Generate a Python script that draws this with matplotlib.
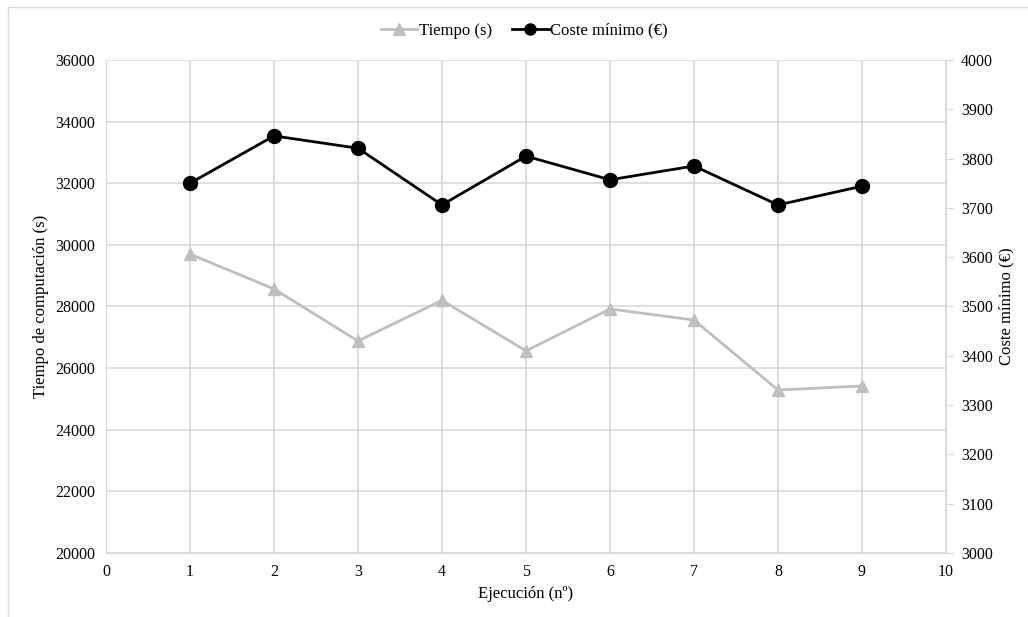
import matplotlib.pyplot as plt
from matplotlib.lines import Line2D

plt.rcParams['font.family'] = ['Liberation Serif', 'DejaVu Serif']

ejecucion = [1, 2, 3, 4, 5, 6, 7, 8, 9]
tiempo = [29700, 28570, 26880, 28200, 26560, 27920, 27560, 25290, 25420]
coste = [3750, 3846, 3821, 3706, 3805, 3757, 3785, 3706, 3744]

gris = '#bfbfbf'
rejilla = '#d9d9d9'

fig = plt.figure(figsize=(10.28, 6.17), dpi=100)
# borde del recuadro del grafico (solo arriba e izquierda quedan dentro de la imagen)
fig.add_artist(Line2D([0.0078, 1.0], [0.988, 0.988], transform=fig.transFigure, color=rejilla, linewidth=1))
fig.add_artist(Line2D([0.0078, 0.0078], [0.0, 0.988], transform=fig.transFigure, color=rejilla, linewidth=1))

ax = fig.add_axes([0.1031, 0.1037, 0.8171, 0.7991])
ax2 = ax.twinx()

ax.plot(ejecucion, tiempo, color=gris, marker='^', markersize=9, linewidth=2, zorder=3)
ax2.plot(ejecucion, coste, color='black', marker='o', markersize=10, linewidth=2, zorder=3)

ax.set_xlim(0, 10)
ax.set_ylim(20000, 36000)
ax2.set_ylim(3000, 4000)
ax.set_xticks(range(0, 11))
ax.set_yticks(range(20000, 36001, 2000))
ax2.set_yticks(range(3000, 4001, 100))

ax.grid(True, color=rejilla, linewidth=1.2)
ax.set_axisbelow(True)
for a in (ax, ax2):
    for s in a.spines.values():
        s.set_visible(False)
ax.spines['left'].set_visible(True)
ax.spines['left'].set_color(rejilla)
ax.spines['bottom'].set_visible(True)
ax.spines['bottom'].set_color(rejilla)
ax2.spines['right'].set_visible(True)
ax2.spines['right'].set_color(rejilla)

ax.tick_params(axis='both', length=0, labelsize=11.5, pad=8)
ax2.tick_params(axis='y', length=5, color=rejilla, labelsize=11.5, pad=6)

ax.set_xlabel('Ejecución (nº)', fontsize=12)
ax.set_ylabel('Tiempo de computación (s)', fontsize=12)
ax2.set_ylabel('Coste mínimo (€)', fontsize=12)

handles = [Line2D([], [], color=gris, marker='^', markersize=8, linewidth=2),
           Line2D([], [], color='black', marker='o', markersize=8, linewidth=2)]
fig.legend(handles, ['Tiempo (s)', 'Coste mínimo (€)'], loc='center', bbox_to_anchor=(0.51, 0.95),
           ncol=2, frameon=False, fontsize=12, handlelength=2.2, handletextpad=0.1, columnspacing=1.2)

fig.savefig('out.png', dpi=100)
